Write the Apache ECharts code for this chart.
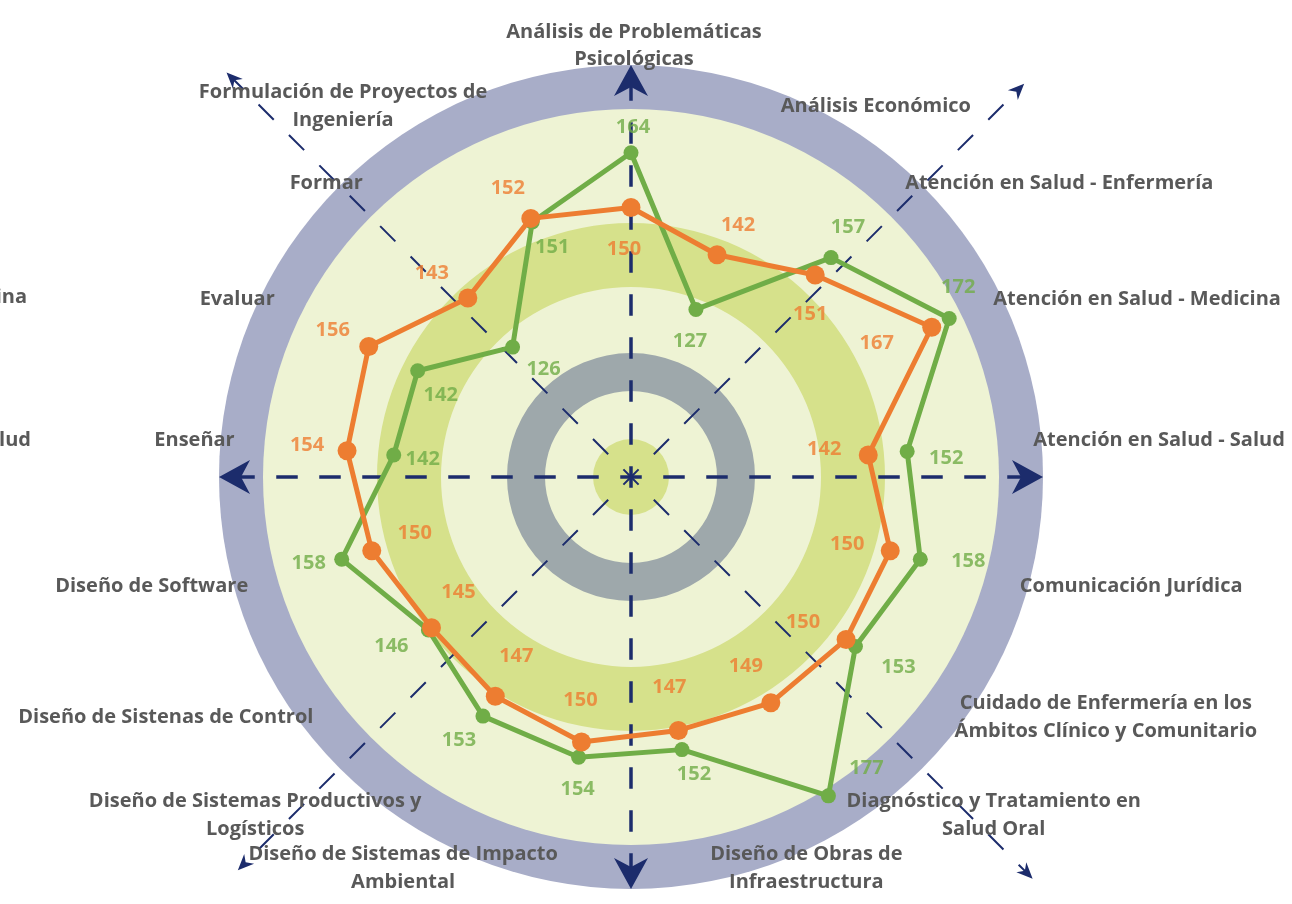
<!DOCTYPE html>
<html>
<head>
<meta charset="utf-8">
<title>Competencias - radar</title>
<script src="https://cdn.jsdelivr.net/npm/echarts@6/dist/echarts.min.js"></script>
<style>
  html, body { margin: 0; padding: 0; background: #ffffff; }
  #chart { width: 1292px; height: 904px; }
</style>
</head>
<body>
<div id="chart"></div>
<script>
// ---------------------------------------------------------------------------
// Data (clockwise from 12 o'clock)
// ---------------------------------------------------------------------------
const competencias = [
  'Análisis de Problemáticas\nPsicológicas',
  'Análisis Económico',
  'Atención en Salud - Enfermería',
  'Atención en Salud - Medicina',
  'Atención en Salud - Salud',
  'Comunicación Jurídica',
  'Cuidado de Enfermería en los\nÁmbitos Clínico y Comunitario',
  'Diagnóstico y Tratamiento en\nSalud Oral',
  'Diseño de Obras de\nInfraestructura',
  'Diseño de Sistemas de Impacto\nAmbiental',
  'Diseño de Sistemas Productivos y\nLogísticos',
  'Diseño de Sistenas de Control',
  'Diseño de Software',
  'Enseñar',
  'Evaluar',
  'Formar',
  'Formulación de Proyectos de\nIngeniería'
];
const serieVerde   = [164, 127, 157, 172, 152, 158, 153, 177, 152, 154, 153, 146, 158, 142, 142, 126, 151];
const serieNaranja = [150, 142, 151, 167, 142, 150, 150, 149, 147, 150, 147, 145, 150, 154, 156, 143, 152];

// label placement relative to its point, px (style only)
const offVerde = [
  [2, -25], [-6, 32], [17, -30], [9, -31], [39, 7], [48, 2], [43, 21], [38, -28],
  [12, 25], [-1, 32], [-24, 24], [-37, 16], [-33, 4], [29, 4], [23, 25], [31, 22], [20, 25]
];
const offNaranja = [
  [-7, 42], [21, -30], [-5, 39], [-55, 16], [-44, -6], [-43, -6], [-43, -17], [-25, -37],
  [-9, -43], [-1, -42], [21, -40], [27, -35], [43, -17], [-40, -5], [-36, -16], [-36, -25], [-23, -30]
];

// ---------------------------------------------------------------------------
// Layout
// ---------------------------------------------------------------------------
const CX = 631, CY = 477;
const R = 375;                 // value radius
const V_MIN = 81, V_MAX = 177;
const FONT = 'Open Sans';
const NAVY = '#1c2c6c';
const GREEN = '#70ad47';
const ORANGE = '#ed7d31';
const GREY_TXT = '#595959';

// radar indicators run counter-clockwise, so keep the first and flip the rest
const ccw = arr => [arr[0]].concat(arr.slice(1).reverse());

// point at radius r, angle deg measured clockwise from 12 o'clock
function pt(r, deg) {
  const a = deg * Math.PI / 180;
  return [CX + r * Math.sin(a), CY - r * Math.cos(a)];
}

function dashedAxis(deg, r, width) {
  const p = pt(r, deg);
  return {
    type: 'line', z: 2, silent: true,
    shape: { x1: CX, y1: CY, x2: p[0], y2: p[1] },
    style: { stroke: NAVY, lineWidth: width, lineDash: [21.5, 21.5], lineDashOffset: 10.75 }
  };
}

function arrowHead(deg, r, len, half, notch) {
  const a = deg * Math.PI / 180;
  const ux = Math.sin(a), uy = -Math.cos(a);
  const px = -uy, py = ux;
  const tip = pt(r, deg);
  const bx = tip[0] - ux * len, by = tip[1] - uy * len;
  const nx = tip[0] - ux * notch, ny = tip[1] - uy * notch;
  return {
    type: 'polygon', z: 2, silent: true,
    shape: { points: [tip, [bx + px * half, by + py * half], [nx, ny], [bx - px * half, by - py * half]] },
    style: { fill: NAVY }
  };
}

const graphics = [
  // background rings
  { type: 'circle', z: 1, silent: true, shape: { cx: CX, cy: CY, r: 412 }, style: { fill: '#a8adc8' } },
  { type: 'circle', z: 1, silent: true, shape: { cx: CX, cy: CY, r: 368 }, style: { fill: '#eef3d4' } },
  { type: 'ring', z: 1, silent: true, shape: { cx: CX, cy: CY, r: 254, r0: 190 }, style: { fill: '#d6e18b' } },
  { type: 'ring', z: 1, silent: true, shape: { cx: CX, cy: CY, r: 124, r0: 86 }, style: { fill: '#9ea8ab' } },
  { type: 'circle', z: 1, silent: true, shape: { cx: CX, cy: CY, r: 38 }, style: { fill: '#d6e18b' } }
];

// main cross with big arrows
[0, 90, 180, 270].forEach(d => {
  graphics.push(dashedAxis(d, 398, 3.5));
  graphics.push(arrowHead(d, 412, 31, 17, 22));
});
// diagonals with small arrows
[[315, 572], [135, 568], [45, 556], [225, 556]].forEach(([d, r]) => {
  graphics.push(dashedAxis(d, r - 6, 2));
  graphics.push(arrowHead(d, r, 16, 7, 11));
});

// label fragments that spill in at the left edge
graphics.push({
  type: 'text', z: 3, silent: true,
  style: { text: competencias[3], x: 27, y: 297, align: 'right', verticalAlign: 'middle',
           font: 'bold 20px "' + FONT + '"', fill: GREY_TXT }
});
graphics.push({
  type: 'text', z: 3, silent: true,
  style: { text: competencias[4], x: 31, y: 440, align: 'right', verticalAlign: 'middle',
           font: 'bold 20px "' + FONT + '"', fill: GREY_TXT }
});

const nameFont = { fontFamily: FONT, fontSize: 20, fontWeight: 'bold' };
const labelFont = { fontFamily: FONT, fontSize: 20, fontWeight: 'bold' };

// each line centred inside the name block; the top name sits a little higher
function formatName(n) {
  const lines = n.split('\n');
  if (n === competencias[0]) {
    return '{t1|' + lines[0] + '}\n{t2|' + lines[1] + '}';
  }
  return lines.map(l => '{c|' + l + '}').join('\n');
}

function labelSeries(values, offsets, color) {
  return {
    type: 'scatter', coordinateSystem: 'polar', z: 6, silent: true,
    symbol: 'circle', symbolSize: 1,
    itemStyle: { color: 'rgba(0,0,0,0)' },
    label: Object.assign({ show: true, position: 'inside', color: color,
                           formatter: p => p.value[0] }, labelFont),
    data: values.map((v, i) => ({ value: [v, i], label: { offset: offsets[i] } }))
  };
}

const chart = echarts.init(document.getElementById('chart'), null, { renderer: 'canvas' });

chart.setOption({
  animation: false,
  backgroundColor: '#ffffff',
  graphic: graphics,
  radar: {
    center: [CX, CY],
    radius: R,
    startAngle: 90,
    shape: 'circle',
    z: 3,
    nameGap: 23,
    indicator: ccw(competencias).map(name => ({ name: name, min: V_MIN, max: V_MAX })),
    axisName: Object.assign({
      color: GREY_TXT,
      padding: [0, 0, 0, 6],
      formatter: formatName,
      rich: {
        c: Object.assign({ align: 'center', color: GREY_TXT, lineHeight: 28 }, nameFont),
        t1: Object.assign({ align: 'center', color: GREY_TXT, lineHeight: 14 }, nameFont),
        t2: Object.assign({ align: 'center', color: GREY_TXT, lineHeight: 40 }, nameFont)
      }
    }, nameFont),
    axisLine: { show: false },
    splitLine: { show: false },
    splitArea: { show: false },
    axisTick: { show: false },
    axisLabel: { show: false }
  },
  polar: { center: [CX, CY], radius: R },
  angleAxis: { type: 'value', min: 0, max: 17, startAngle: 90, clockwise: true, show: false },
  radiusAxis: { type: 'value', min: V_MIN, max: V_MAX, show: false },
  series: [
    {
      type: 'radar', z: 4, silent: true,
      symbol: 'circle', symbolSize: 15,
      lineStyle: { color: GREEN, width: 5 },
      itemStyle: { color: GREEN },
      data: [{ name: 'Serie 2', value: ccw(serieVerde) }]
    },
    {
      type: 'radar', z: 5, silent: true,
      symbol: 'circle', symbolSize: 19,
      lineStyle: { color: ORANGE, width: 5 },
      itemStyle: { color: ORANGE },
      data: [{ name: 'Serie 1', value: ccw(serieNaranja) }]
    },
    labelSeries(serieVerde, offVerde, GREEN),
    labelSeries(serieNaranja, offNaranja, ORANGE)
  ]
});
</script>
</body>
</html>
